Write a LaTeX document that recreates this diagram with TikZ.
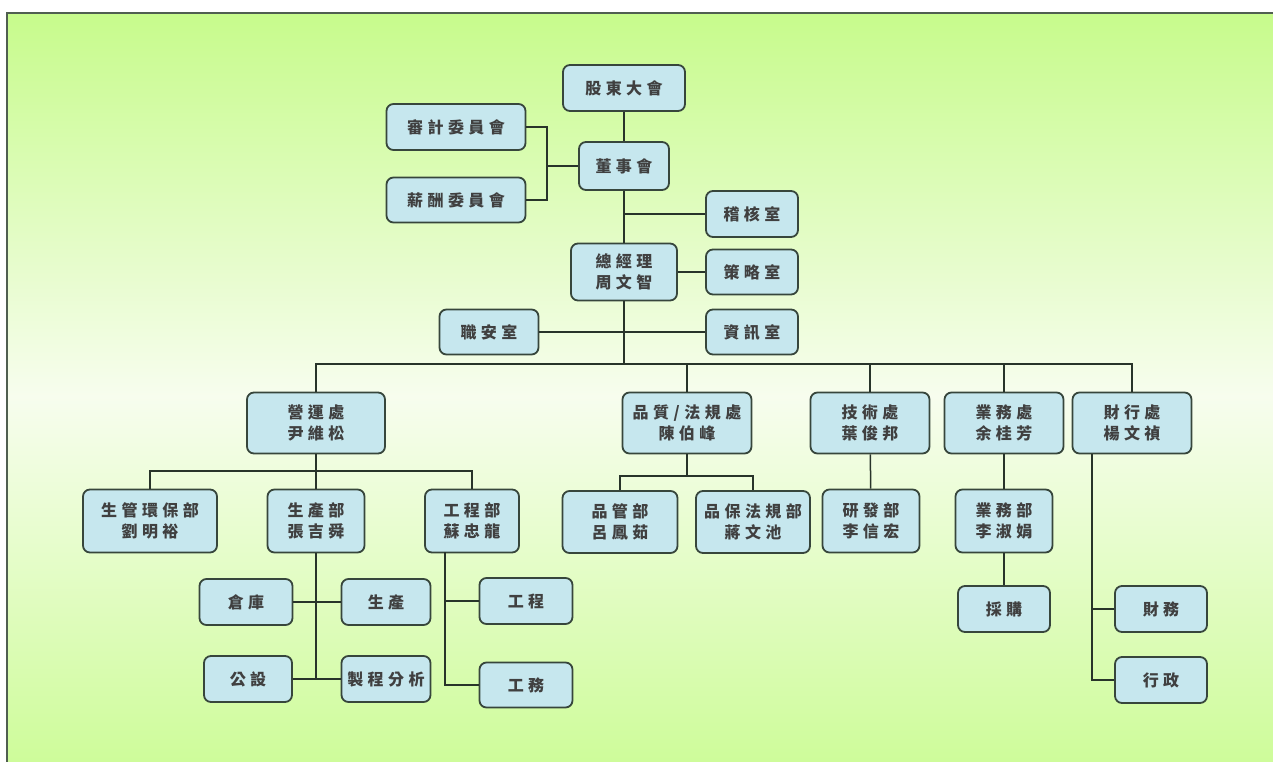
\documentclass[tikz,border=0pt]{standalone}
\usepackage{fontspec}
\setmainfont[LetterSpace=28]{Noto Sans CJK TC}
\usepackage{xcolor}
\definecolor{boxfill}{RGB}{198,231,238}
\definecolor{boxline}{RGB}{55,70,60}
\definecolor{wirecol}{RGB}{40,52,42}
\definecolor{framecol}{RGB}{80,95,80}
\definecolor{bgtop}{RGB}{199,251,140}
\definecolor{bgmid}{RGB}{247,253,238}
\definecolor{bgbot}{RGB}{204,252,150}
\tikzstyle{org box}=[
        draw = boxline,
        line width = 1.8pt,
        fill = boxfill,
        rounded corners = 7pt,
        align = center,
        inner sep = 0pt,
        text = black!75,
        font = \fontsize{16}{20.5}\selectfont\bfseries
    ]

\begin{document}
\begin{tikzpicture}[x=1pt, y=-1pt, link/.style = {draw=wirecol, line width=1.5pt}]
        \useasboundingbox (0,0) rectangle (1273,762);
        \draw[framecol, line width=2pt, top color=bgtop, bottom color=bgbot, middle color=bgmid] (7,13) rectangle (1290,780);

        % board level
        \node[org box, minimum width=122pt, minimum height=46pt] (gdh) at (624,88) {股東大會};
        \node[org box, minimum width=139pt, minimum height=46pt] (sj) at (456,127) {審計委員會};
        \node[org box, minimum width=90pt, minimum height=48pt] (dsh) at (624,166) {董事會};
        \node[org box, minimum width=139pt, minimum height=45pt] (xc) at (456,200) {薪酬委員會};
        \node[org box, minimum width=92pt, minimum height=46pt] (jh) at (752,214) {稽核室};
        \node[org box, minimum width=106pt, minimum height=57pt] (zjl) at (624,272) {總經理\\周文智};
        \node[org box, minimum width=92pt, minimum height=45pt] (cl) at (752,272) {策略室};
        \node[org box, minimum width=99pt, minimum height=45pt] (za) at (489,332) {職安室};
        \node[org box, minimum width=92pt, minimum height=45pt] (zx) at (752,332) {資訊室};

        % divisions
        \node[org box, minimum width=138pt, minimum height=61pt] (yy) at (316,423) {營運處\\尹維松};
        \node[org box, minimum width=129pt, minimum height=61pt] (pz) at (687,423) {品質/法規處\\陳伯峰};
        \node[org box, minimum width=119pt, minimum height=61pt] (js) at (870,423) {技術處\\葉俊邦};
        \node[org box, minimum width=119pt, minimum height=61pt] (yw) at (1004,423) {業務處\\余桂芳};
        \node[org box, minimum width=119pt, minimum height=61pt] (cx) at (1132,423) {財行處\\楊文禎};

        % departments
        \node[org box, minimum width=134pt, minimum height=63pt] (sg) at (150,521) {生管環保部\\劉明裕};
        \node[org box, minimum width=97pt, minimum height=63pt] (scb) at (316,521) {生產部\\張吉舜};
        \node[org box, minimum width=94pt, minimum height=63pt] (gcb) at (472,521) {工程部\\蘇忠龍};
        \node[org box, minimum width=115pt, minimum height=62pt] (pg) at (620,522) {品管部\\呂鳳茹};
        \node[org box, minimum width=114pt, minimum height=62pt] (pb) at (753,522) {品保法規部\\蔣文池};
        \node[org box, minimum width=97pt, minimum height=63pt] (yf) at (871,521) {研發部\\李信宏};
        \node[org box, minimum width=97pt, minimum height=63pt] (ywb) at (1004,521) {業務部\\李淑娟};

        % sections
        \node[org box, minimum width=93pt, minimum height=46pt] (ck) at (246,602) {倉庫};
        \node[org box, minimum width=89pt, minimum height=46pt] (sc) at (386,602) {生產};
        \node[org box, minimum width=88pt, minimum height=46pt] (gs) at (248,679) {公設};
        \node[org box, minimum width=89pt, minimum height=46pt] (zc) at (386,679) {製程分析};
        \node[org box, minimum width=93pt, minimum height=46pt] (gc) at (526,601) {工程};
        \node[org box, minimum width=93pt, minimum height=45pt] (gw) at (526,685) {工務};
        \node[org box, minimum width=92pt, minimum height=46pt] (cg) at (1004,609) {採購};
        \node[org box, minimum width=92pt, minimum height=46pt] (cw) at (1161,609) {財務};
        \node[org box, minimum width=92pt, minimum height=46pt] (xz) at (1161,680) {行政};

        \coordinate (bd) at (547,166);
        \coordinate (bus) at (624,364);
        \coordinate (yyb) at (316,471);
        \coordinate (pzb) at (687,476);
        \coordinate (gcl) at (445,552);
        \coordinate (cxl) at (1092,454);

        \draw[link] (gdh) -- (dsh);
        \draw[link] (dsh) -- (zjl);
        \draw[link] (sj) -| (bd) |- (xc);
        \draw[link] (bd) -- (dsh);
        \draw[link] (jh) -- (jh -| dsh);
        \draw[link] (cl) -- (zjl);
        \draw[link] (za) -- (zx);
        \draw[link] (zjl) -- (bus);
        \draw[link] (yy.north) |- (bus) -| (cx.north);
        \draw[link] (pz) -- (pz |- bus);
        \draw[link] (js) -- (js |- bus);
        \draw[link] (yw) -- (yw |- bus);

        \draw[link] (yy) -- (scb);
        \draw[link] (sg.north) |- (yyb) -| (gcb.north);
        \draw[link] (scb) -- (scb |- gs);
        \draw[link] (ck) -- (sc);
        \draw[link] (gs) -- (zc);
        \draw[link] (gcl) |- (gw);
        \draw[link] (gc) -- (gc -| gcl);

        \draw[link] (pz) -- (pzb);
        \draw[link] (pg.north) |- (pzb) -| (pb.north);
        \draw[link] (js) -- (yf);
        \draw[link] (yw) -- (ywb);
        \draw[link] (ywb) -- (cg);
        \draw[link] (cxl) |- (xz);
        \draw[link] (cw) -- (cw -| cxl);
    \end{tikzpicture}
\end{document}
